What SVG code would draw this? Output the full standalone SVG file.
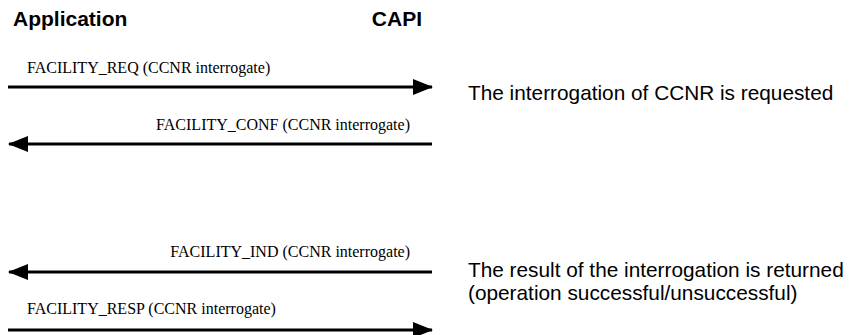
<svg xmlns="http://www.w3.org/2000/svg" width="854" height="335" viewBox="0 0 854 335">
<defs>
<marker id="ah" markerWidth="20" markerHeight="18" refX="19" refY="9" orient="auto" markerUnits="userSpaceOnUse">
<path d="M0,1 L20,9 L0,17 Z" fill="#000"/>
</marker>
<style>
.hd{font-family:"Liberation Sans",Arial,sans-serif;font-weight:bold;font-size:21px;fill:#000}
.msg{font-family:"Liberation Serif","Times New Roman",serif;font-size:16px;fill:#000}
.note{font-family:"Liberation Sans",Arial,sans-serif;font-size:20.8px;fill:#000}
.ln{stroke:#000;stroke-width:3;fill:none;marker-end:url(#ah)}
</style>
</defs>
<rect width="854" height="335" fill="#fff"/>
<g id="application"><text class="hd" x="13" y="26">Application</text></g>
<g id="capi"><text class="hd" x="422" y="26" text-anchor="end">CAPI</text></g>
<g id="connectors">
<line class="ln" x1="8" y1="87" x2="432" y2="87"/>
<line class="ln" x1="432" y1="144" x2="9" y2="144"/>
<line class="ln" x1="432" y1="272" x2="9" y2="272"/>
<line class="ln" x1="8" y1="330" x2="432" y2="330"/>
</g>
<g id="labels">
<text class="msg" x="27" y="73">FACILITY_REQ (CCNR interrogate)</text>
<text class="msg" x="410" y="130" text-anchor="end">FACILITY_CONF (CCNR interrogate)</text>
<text class="msg" x="410" y="257" text-anchor="end">FACILITY_IND (CCNR interrogate)</text>
<text class="msg" x="27" y="314">FACILITY_RESP (CCNR interrogate)</text>
</g>
<g id="note-request"><text class="note" x="468" y="100">The interrogation of CCNR is requested</text></g>
<g id="note-result">
<text class="note" x="468" y="277">The result of the interrogation is returned</text>
<text class="note" x="468" y="300">(operation successful/unsuccessful)</text>
</g>
</svg>
